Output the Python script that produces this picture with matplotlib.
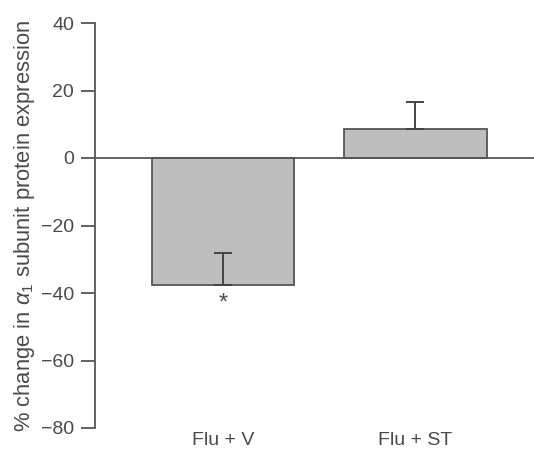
import matplotlib.pyplot as plt

groups = ["Flu + V", "Flu + ST"]
means = [-37.7, 8.5]
sem_upper = [9.5, 8.2]
yticks = [40, 20, 0, -20, -40, -60, -80]

plt.rcParams["font.family"] = ["Liberation Sans", "DejaVu Sans"]
plt.rcParams["mathtext.fontset"] = "custom"
plt.rcParams["mathtext.it"] = "Liberation Sans:italic"
plt.rcParams["mathtext.rm"] = "Liberation Sans"

ink = "#4a4a4a"
fig = plt.figure(figsize=(5.34, 4.49), dpi=100)
ax = fig.add_axes([95 / 534, 21 / 449, 439 / 534, 405 / 449])

xpos = list(range(len(groups)))
ax.bar(xpos, means, width=0.74, color="#bebebe", edgecolor="#555555",
       linewidth=1.3, zorder=2)
ax.errorbar(xpos, means, yerr=[[0] * len(means), sem_upper], fmt="none",
            ecolor="#444444", elinewidth=1.4, capsize=6.8, capthick=1.4,
            zorder=3)
ax.axhline(0, color="#555555", linewidth=1.3, zorder=4)

ax.text(xpos[0], means[0] - 5.5, "*", ha="center", va="center",
        fontsize=17, color=ink)

ax.set_xlim(-0.665, 1.616)
ax.set_ylim(-80, 40)
ax.set_yticks(yticks)
ax.set_yticklabels([f"{t}".replace("-", "\u2212") for t in yticks])
ax.set_xticks([])

for sp in ["top", "right", "bottom"]:
    ax.spines[sp].set_visible(False)
ax.spines["left"].set_color("#555555")
ax.spines["left"].set_linewidth(1.3)
ax.tick_params(axis="y", direction="out", length=10, width=1.3,
               colors="#555555", labelcolor=ink, labelsize=14, pad=5)

for x, name in zip(xpos, groups):
    ax.text(x, -83.8, name, ha="center", va="center", fontsize=14,
            color=ink, clip_on=False)

ax.set_ylabel(r"% change in $\alpha_1$ subunit protein expression",
              fontsize=15.8, color=ink, labelpad=3)

fig.savefig("out.png", dpi=100, facecolor="white")
